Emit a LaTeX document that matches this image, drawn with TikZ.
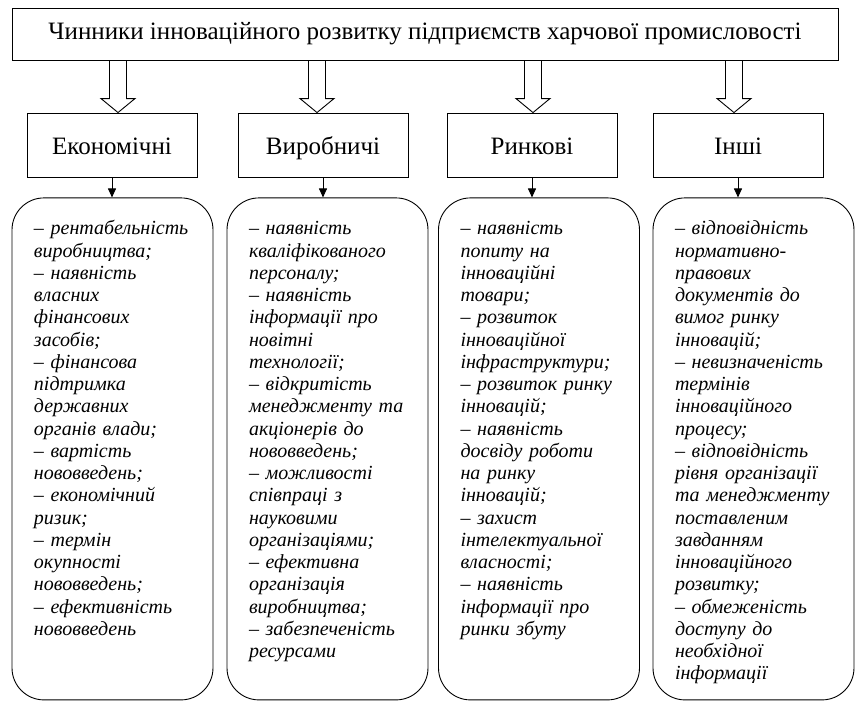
\documentclass[tikz,border=0pt]{standalone}
\usepackage{fontspec}
\setmainfont{Liberation Serif}
\usetikzlibrary{arrows.meta,positioning}

\begin{document}
\begin{tikzpicture}[
    x=1pt, y=1pt,
    node distance=20pt,
    head/.style={draw, line width=0.9pt, minimum width=826pt, minimum height=52pt,
                 inner sep=0pt, text height=16pt, text depth=6pt,
                 font=\fontsize{25}{28}\selectfont},
    group/.style={draw, line width=0.9pt, minimum width=170pt, minimum height=64pt,
                  inner sep=0pt, text height=19pt, text depth=0pt,
                  font=\fontsize{25}{28}\selectfont},
    list/.style={draw, line width=0.9pt, rounded corners=32pt, align=left,
                 text width=157pt, inner xsep=22pt, inner ysep=23pt,
                 text height=14pt, text depth=442pt,
                 font=\itshape\fontsize{20}{22.25}\selectfont},
    fat/.style={line width=0.9pt},
    arr/.style={-{Triangle[length=9pt,width=8pt]}, line width=0.9pt}
]
\useasboundingbox (0,0) rectangle (855,-702);

\node[head] (top) at (425,-34)
    {Чинники інноваційного розвитку підприємств харчової промисловості};

\node[group] (econ)   at (112,-145) {Економічні};
\node[group] (prod)   at (323,-145) {Виробничі};
\node[group] (market) at (532,-145) {Ринкові};
\node[group] (other)  at (738,-145) {Інші};

\node[list, below=20pt of econ, xshift=0.5pt] (econlist)
    {– рентабельність\\ виробництва;\\ – наявність\\ власних\\
     фінансових\\ засобів;\\ – фінансова\\ підтримка\\ державних\\
     органів влади;\\ – вартість\\ нововведень;\\ – економічний\\
     ризик;\\ – термін\\ окупності\\ нововведень;\\ – ефективність\\
     нововведень};

\node[list, below=20pt of prod, xshift=4.5pt] (prodlist)
    {– наявність\\ кваліфікованого\\ персоналу;\\ – наявність\\
     інформації про\\ новітні\\ технології;\\ – відкритість\\
     менеджменту та\\ акціонерів до\\ нововведень;\\ – можливості\\
     співпраці з\\ науковими\\ організаціями;\\ – ефективна\\
     організація\\ виробництва;\\ – забезпеченість\\ ресурсами};

\node[list, below=20pt of market, xshift=7pt] (marketlist)
    {– наявність\\ попиту на\\ інноваційні\\ товари;\\ – розвиток\\
     інноваційної\\ інфраструктури;\\ – розвиток ринку\\ інновацій;\\
     – наявність\\ досвіду роботи\\ на ринку\\ інновацій;\\ – захист\\
     інтелектуальної\\ власності;\\ – наявність\\ інформації про\\
     ринки збуту};

\node[list, below=20pt of other, xshift=15.5pt] (otherlist)
    {– відповідність\\ нормативно-\\ правових\\ документів до\\
     вимог ринку\\ інновацій;\\ – невизначеність\\ термінів\\
     інноваційного\\ процесу;\\ – відповідність\\ рівня організації\\
     та менеджменту\\ поставленим\\ завданням\\ інноваційного\\
     розвитку;\\ – обмеженість\\ доступу до\\ необхідної\\ інформації};

% hollow arrows from the title
\foreach \a/\dx in {econ/6pt,prod/-6pt,market/1pt,other/-4pt}{
    \draw[fat] ([xshift=\dx-8.5pt]\a.north |- top.south)
        -- ([xshift=\dx-8.5pt,yshift=14pt]\a.north)
        -- ([xshift=\dx-17pt,yshift=14pt]\a.north)
        -- ([xshift=\dx]\a.north)
        -- ([xshift=\dx+17pt,yshift=14pt]\a.north)
        -- ([xshift=\dx+8.5pt,yshift=14pt]\a.north)
        -- ([xshift=\dx+8.5pt]\a.north |- top.south);
}

\foreach \a/\b in {econ/econlist,prod/prodlist,market/marketlist,other/otherlist}{
    \draw[arr] (\a.south) -- (\a.south |- \b.north);
}

\end{tikzpicture}
\end{document}
